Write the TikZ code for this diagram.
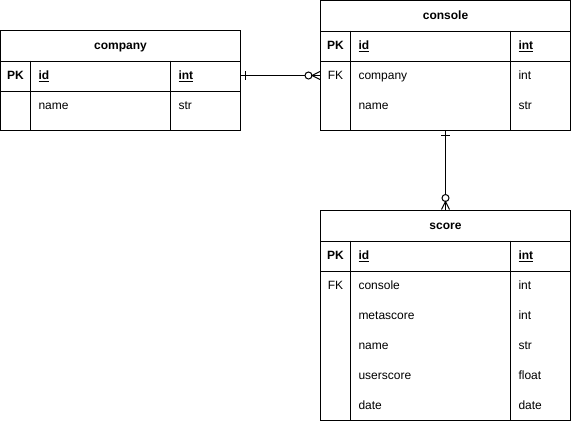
\documentclass[tikz,border=0pt]{standalone}
\usepackage{fontspec}
\setmainfont{Liberation Sans}
\usetikzlibrary{calc}
\begin{document}
\begin{tikzpicture}[x=1pt,y=-1pt,line width=1pt,
  table/.style={draw,rectangle,inner sep=0pt,minimum width=#1},
  rowbox/.style={rectangle,inner sep=0pt,minimum width=#1,minimum height=30pt},
  cell/.style={anchor=west,inner sep=0pt,text height=9pt,text depth=0.5pt,font=\fontsize{12}{14}\selectfont},
  keycell/.style={cell,font=\fontsize{12}{14}\selectfont\bfseries},
  title/.style={anchor=center,inner sep=0pt,text height=9pt,text depth=0.5pt,font=\fontsize{12}{14}\selectfont\bfseries},
  rel/.style={draw,line width=1pt}]
\useasboundingbox (0,0) rectangle (571,421);

% ---------- company ----------
\node[table=240pt,minimum height=100pt] (company) at (120.5,80.5) {};
\node[rowbox=240pt] (company-head) at (120.5,45.5) {};
\node[rowbox=240pt] (company-pk) at (120.5,75.5) {};
\draw (company-head.south west) -- (company-head.south east);
\draw (company-pk.south west) -- (company-pk.south east);
\draw (30.5,60.5) -- (30.5,130.5);
\draw (170.5,60.5) -- (170.5,130.5);
\node[title] (company-t) at (120.5,45.5) {company};
\node[keycell,anchor=center] (company-pkl) at (15.5,75.5) {PK};
\node[keycell] (company-id) at (38,75.5) {\underline{id}};
\node[keycell] (company-idt) at (178,75.5) {\underline{int}};
\node[cell] (company-name) at (38,105.5) {name};
\node[cell] (company-namet) at (178,105.5) {str};

% ---------- console ----------
\node[table=250pt,minimum height=130pt] (console) at (445.5,65.5) {};
\node[rowbox=250pt] (console-head) at (445.5,15.5) {};
\node[rowbox=250pt] (console-pk) at (445.5,45.5) {};
\node[rowbox=250pt] (console-fk) at (445.5,75.5) {};
\draw (console-head.south west) -- (console-head.south east);
\draw (console-pk.south west) -- (console-pk.south east);
\draw (350.5,30.5) -- (350.5,130.5);
\draw (510.5,30.5) -- (510.5,130.5);
\node[title] (console-t) at (445.5,15.5) {console};
\node[keycell,anchor=center] (console-pkl) at (335.5,45.5) {PK};
\node[keycell] (console-id) at (358,45.5) {\underline{id}};
\node[keycell] (console-idt) at (518,45.5) {\underline{int}};
\node[cell,anchor=center] (console-fkl) at (335.5,75.5) {FK};
\node[cell] (console-company) at (358,75.5) {company};
\node[cell] (console-companyt) at (518,75.5) {int};
\node[cell] (console-name) at (358,105.5) {name};
\node[cell] (console-namet) at (518,105.5) {str};

% ---------- score ----------
\node[table=250pt,minimum height=210pt] (score) at (445.5,315) {};
\node[rowbox=250pt] (score-head) at (445.5,225.5) {};
\node[rowbox=250pt] (score-pk) at (445.5,255.5) {};
\draw (score-head.south west) -- (score-head.south east);
\draw (score-pk.south west) -- (score-pk.south east);
\draw (350.5,240.5) -- (350.5,420);
\draw (510.5,240.5) -- (510.5,420);
\node[title] (score-t) at (445.5,225.5) {score};
\node[keycell,anchor=center] (score-pkl) at (335.5,255.5) {PK};
\node[keycell] (score-id) at (358,255.5) {\underline{id}};
\node[keycell] (score-idt) at (518,255.5) {\underline{int}};
\node[cell,anchor=center] (score-fkl) at (335.5,285.5) {FK};
\node[cell] (score-console) at (358,285.5) {console};
\node[cell] (score-consolet) at (518,285.5) {int};
\node[cell] (score-meta) at (358,315.5) {metascore};
\node[cell] (score-metat) at (518,315.5) {int};
\node[cell] (score-name) at (358,345.5) {name};
\node[cell] (score-namet) at (518,345.5) {str};
\node[cell] (score-user) at (358,375.5) {userscore};
\node[cell] (score-usert) at (518,375.5) {float};
\node[cell] (score-date) at (358,405.5) {date};
\node[cell] (score-datet) at (518,405.5) {date};

% ---------- relationships ----------
% company (one) -- console (zero or many)
\draw[rel] (company-pk.east) -- (console-fk.west);
\draw[rel] ($(company-pk.east)+(4,-4.5)$) -- ($(company-pk.east)+(4,4.5)$);
\draw[rel,fill=white] ($(console-fk.west)+(-11.5,0)$) circle[radius=3.5];
\draw[rel] ($(console-fk.west)+(0,-4)$) -- ($(console-fk.west)+(-8,0)$) -- ($(console-fk.west)+(0,4)$);

% console (one) -- score (zero or many)
\draw[rel] (console.south) -- (score.north);
\draw[rel] ($(console.south)+(-4.5,4)$) -- ($(console.south)+(4.5,4)$);
\draw[rel,fill=white] ($(score.north)+(0,-11.5)$) circle[radius=3.5];
\draw[rel] ($(score.north)+(-4,0)$) -- ($(score.north)+(0,-8)$) -- ($(score.north)+(4,0)$);
\end{tikzpicture}
\end{document}
